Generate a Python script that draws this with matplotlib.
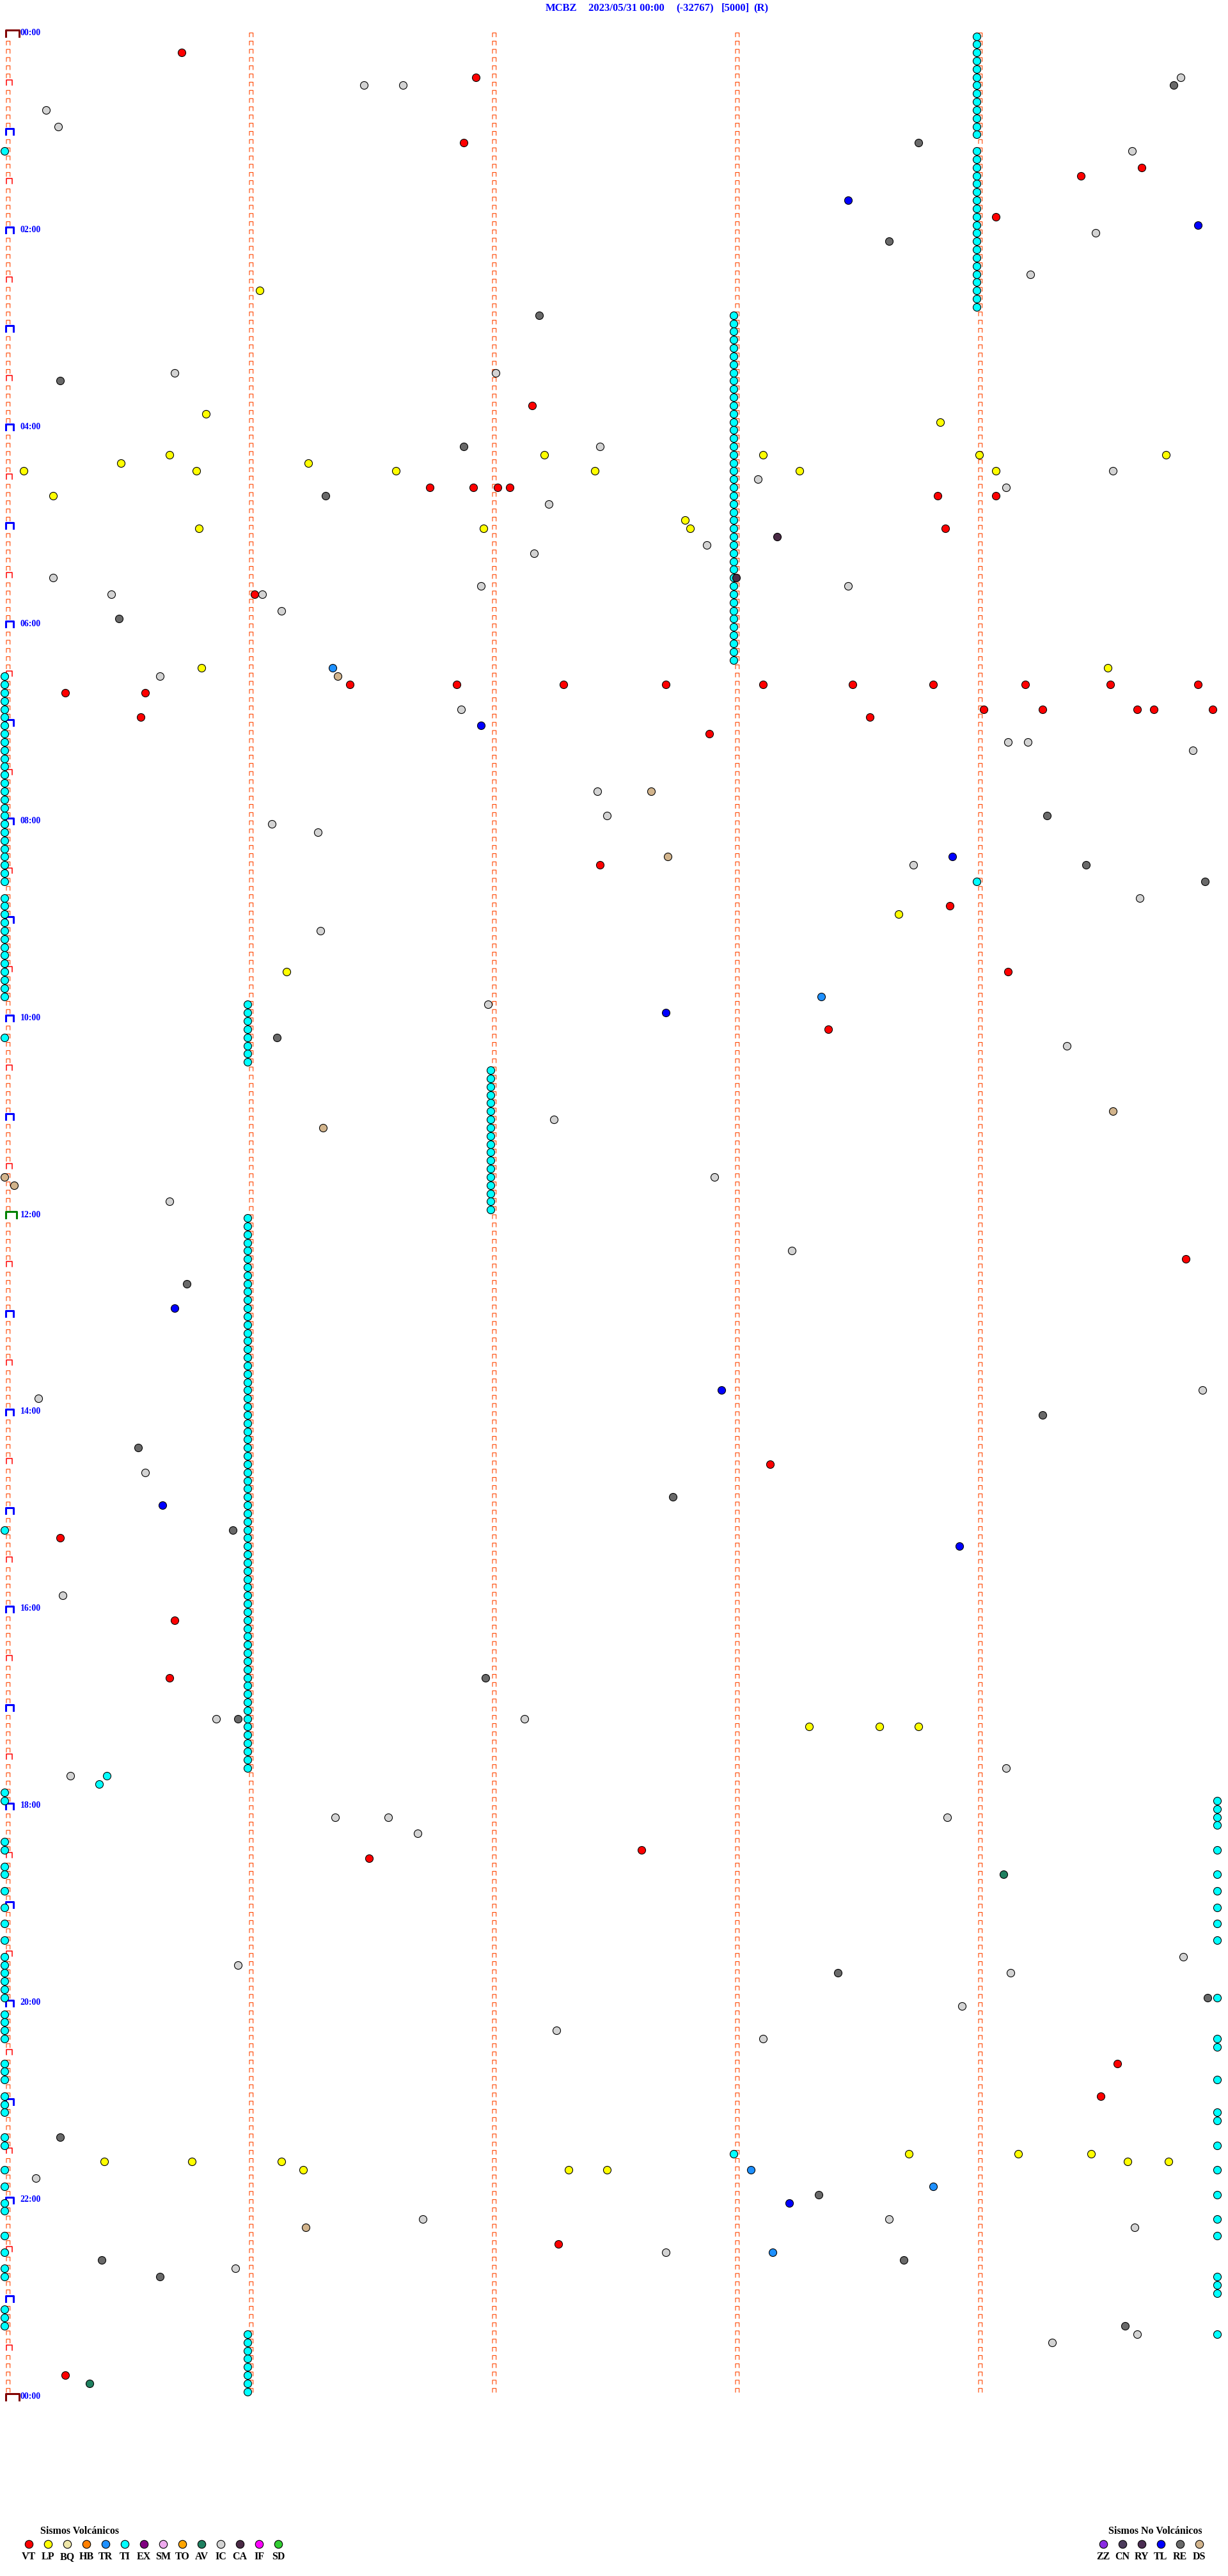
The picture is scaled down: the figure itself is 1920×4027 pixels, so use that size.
import numpy as np
import matplotlib.pyplot as plt

plt.rcParams['font.family'] = ['Liberation Serif', 'DejaVu Serif']

# event times, minutes after 00:00 (one helicorder row = 5 minutes)
vt_times = [10.73, 26.94, 66.89, 84.68, 89.43, 114.08, 227.17, 276.75, 276.93, 277.03,
            277.08, 283.84, 284.08, 303.87, 341.03, 396.42, 396.86, 397.30, 397.72, 398.12,
            398.49, 398.82, 399.20, 399.55, 399.91, 400.25, 400.58, 414.03, 414.27, 414.66,
            414.73, 414.97, 415.56, 418.56, 427.90, 507.45, 533.89, 574.13, 608.39, 749.86,
            873.15, 915.23, 965.70, 1000.68, 1107.62, 1111.50, 1239.58, 1259.51, 1347.28, 1425.25]
lp_times = [156.05, 230.83, 238.85, 255.68, 257.22, 258.12, 259.01, 259.78, 260.48, 261.25,
            265.08, 265.79, 266.61, 267.43, 268.27, 269.08, 280.20, 297.80, 300.80, 301.97,
            302.82, 385.81, 389.54, 538.68, 571.16, 1033.31, 1033.60, 1033.76, 1293.72, 1294.17,
            1294.47, 1295.41, 1295.77, 1296.14, 1299.62, 1299.79, 1301.23, 1302.32, 1302.48]
ic_times = [29.84, 31.48, 31.64, 45.17, 55.22, 74.64, 124.49, 149.22, 205.70, 207.02,
            252.45, 269.56, 273.10, 279.12, 287.24, 312.89, 317.18, 330.20, 336.96, 338.47,
            340.44, 341.06, 351.14, 390.64, 411.88, 434.13, 434.21, 439.89, 462.44, 477.48,
            481.10, 486.29, 508.74, 529.67, 546.30, 591.99, 619.37, 662.26, 697.92, 710.68,
            743.24, 829.93, 830.14, 875.58, 950.24, 1025.87, 1027.14, 1059.12, 1060.27, 1086.36,
            1086.58, 1088.88, 1096.70, 1174.85, 1175.96, 1184.14, 1203.94, 1217.27, 1223.12, 1305.13,
            1331.72, 1333.64, 1339.65, 1352.72, 1360.95, 1404.66, 1409.31]
re_times = [34.81, 68.76, 128.64, 172.20, 210.23, 251.89, 281.32, 355.47, 479.29, 509.45,
            519.94, 611.12, 760.75, 844.27, 860.55, 892.75, 910.94, 1001.98, 1025.96, 1183.43,
            1199.95, 1280.23, 1318.35, 1355.40, 1358.70, 1365.64, 1399.61]
ca_times = [308.18, 333.01]
tl_times = [103.47, 119.91, 421.96, 503.90, 597.72, 775.70, 827.95, 895.65, 923.93, 1323.23]
tr_times = [386.35, 588.36, 1303.07, 1313.82, 1353.16]
ds_times = [391.37, 462.66, 502.73, 659.56, 666.31, 695.00, 700.04, 1336.24]
av_times = [1124.11, 1430.35]
ti_times = [70.0, 519.0, 610.0, 910.0, 1060.42, 1065.39, 1293.0,
            1070, 1075, 1100, 1105, 1115, 1120, 1130, 1140, 1150, 1160, 1170, 1175, 1180,
            1185, 1190, 1195, 1205, 1210, 1215, 1220, 1235, 1240, 1245, 1255, 1260, 1265,
            1280, 1285, 1300, 1310, 1320, 1325, 1340, 1350, 1360, 1365, 1385, 1390, 1395,
            1079.99, 1084.99, 1089.99, 1094.99, 1109.99, 1124.99, 1134.99, 1144.99, 1154.99,
            1164.99, 1199.99, 1224.99, 1229.99, 1249.99, 1269.99, 1274.99, 1289.99, 1304.99,
            1319.99, 1334.99, 1344.99, 1369.99, 1374.99, 1379.99, 1404.99]
# continuous tremor episodes (first, last marked time), one mark per row
ti_episodes = [(4, 64), (74, 169), (173, 383), (390, 515), (525, 585),
               (591, 626), (632, 717), (721, 1056), (1401, 1436)]

title_parts = ["MCBZ", "2023/05/31 00:00", "(-32767)", "[5000]", "(R)"]
title_x = [853, 920, 1057, 1128, 1178]

vol_labels = ["VT", "LP", "BQ", "HB", "TR", "TI", "EX", "SM", "TO", "AV", "IC", "CA", "IF", "SD"]
vol_colors = ["#ff0000", "#ffff00", "#eee6a8", "#ff8000", "#1e90ff", "#00ffff", "#800080",
              "#eeaaee", "#ffa500", "#1f8060", "#d3d3d3", "#4a2a45", "#ff00ff", "#32cd32"]
nv_labels = ["ZZ", "CN", "RY", "TL", "RE", "DS"]
nv_colors = ["#8a2be2", "#4b3b5b", "#4b2d52", "#0000ff", "#696969", "#d2b48c"]

W, H = 1920, 4027
ROW_PX, ROW0_PX = 12.83, 51.5
COL_PX, X0_PX = 380, 13
NROWS = 288
px, py = 1 / COL_PX, 1 / ROW_PX

fig = plt.figure(figsize=(W / 100, H / 100), dpi=100)
ax = fig.add_axes([0, 0, 1, 1])
ax.set_xlim(-X0_PX / COL_PX, (W - X0_PX) / COL_PX)
ax.set_ylim((H - ROW0_PX) / ROW_PX, -ROW0_PX / ROW_PX)
ax.axis('off')


def marks(xs, ys, left, right, top, bottom):
    pts = []
    for x, y in zip(xs, ys):
        pts += [(x + left * px, y + bottom * py), (x + left * px, y + top * py),
                (x + right * px, y + top * py), (x + right * px, y + bottom * py),
                (np.nan, np.nan)]
    a = np.array(pts)
    return a[:, 0], a[:, 1]


rows = np.arange(NROWS + 1)
# minute marks
sx, sy = [], []
for k in range(5):
    for r in range(NROWS):
        if k == 0 and r % 6 == 0:
            continue
        sx.append(k)
        sy.append(r)
ax.plot(*marks(sx, sy, -3, 2.7, 0, 6), color="#ff4500", lw=0.8)
half = [r for r in rows if r % 12 == 6]
ax.plot(*marks([0] * len(half), half, -3, 6, -3.5, 4.5), color="#ff0000", lw=1.1)
hour = [r for r in rows if r % 12 == 0 and r not in (0, 144, NROWS)]
ax.plot(*marks([0] * len(hour), hour, -3.7, 7.7, -4, 5), color="#0000ff", lw=2.2)
ax.plot(*marks([0], [144], -3.7, 12.7, -5, 5), color="#008000", lw=2.2)
ax.plot(*marks([0, 0], [0, NROWS], -3.7, 16.7, -4.5, 5.5), color="#800000", lw=2.2)

for r in range(0, NROWS + 1, 24):
    ax.text(18.7 * px, r, "%02d:00" % ((r // 12) % 24), color="#0000ff", fontsize=10,
            fontweight='bold', ha='left', va='center')


def draw_events(times, color):
    t = np.asarray(times, float)
    rr = np.floor(t / 5 + 1e-6)
    mm = t - rr * 5
    ax.scatter(mm - 6 * px, rr + 5 * py, s=75, c=color, edgecolors='black',
               linewidths=0.8, zorder=3)


ti_all = list(ti_times)
for a, b in ti_episodes:
    ti_all += list(np.arange(a, b + 0.5, 5.0))

draw_events(ti_all, "#00ffff")
draw_events(ic_times, "#d3d3d3")
draw_events(re_times, "#696969")
draw_events(ds_times, "#d2b48c")
draw_events(lp_times, "#ffff00")
draw_events(vt_times, "#ff0000")
draw_events(ca_times, "#4a2a45")
draw_events(tl_times, "#0000ff")
draw_events(tr_times, "#1e90ff")
draw_events(av_times, "#1f8060")

# title and legend in pixel coordinates
lax = fig.add_axes([0, 0, 1, 1], facecolor='none')
lax.set_xlim(0, W)
lax.set_ylim(H, 0)
lax.axis('off')

for s, x in zip(title_parts, title_x):
    lax.text(x, 13, s, color="#0000ff", fontsize=12, fontweight='bold', ha='left', va='center')

lax.text(63, 3957, "Sismos Volcánicos", fontsize=11.5, fontweight='bold', ha='left', va='center')
for i, (lab, col) in enumerate(zip(vol_labels, vol_colors)):
    lax.scatter(45 + 30 * i, 3977, s=80, c=col, edgecolors='black', linewidths=0.8)
    lax.text(45 + 30 * i, 3997, lab, fontsize=11.5, fontweight='bold', ha='center', va='center')

lax.text(1733, 3957, "Sismos No Volcánicos", fontsize=11.5, fontweight='bold', ha='left', va='center')
for i, (lab, col) in enumerate(zip(nv_labels, nv_colors)):
    lax.scatter(1725 + 30 * i, 3977, s=80, c=col, edgecolors='black', linewidths=0.8)
    lax.text(1725 + 30 * i, 3997, lab, fontsize=11.5, fontweight='bold', ha='center', va='center')

fig.savefig("out.png", dpi=100)
